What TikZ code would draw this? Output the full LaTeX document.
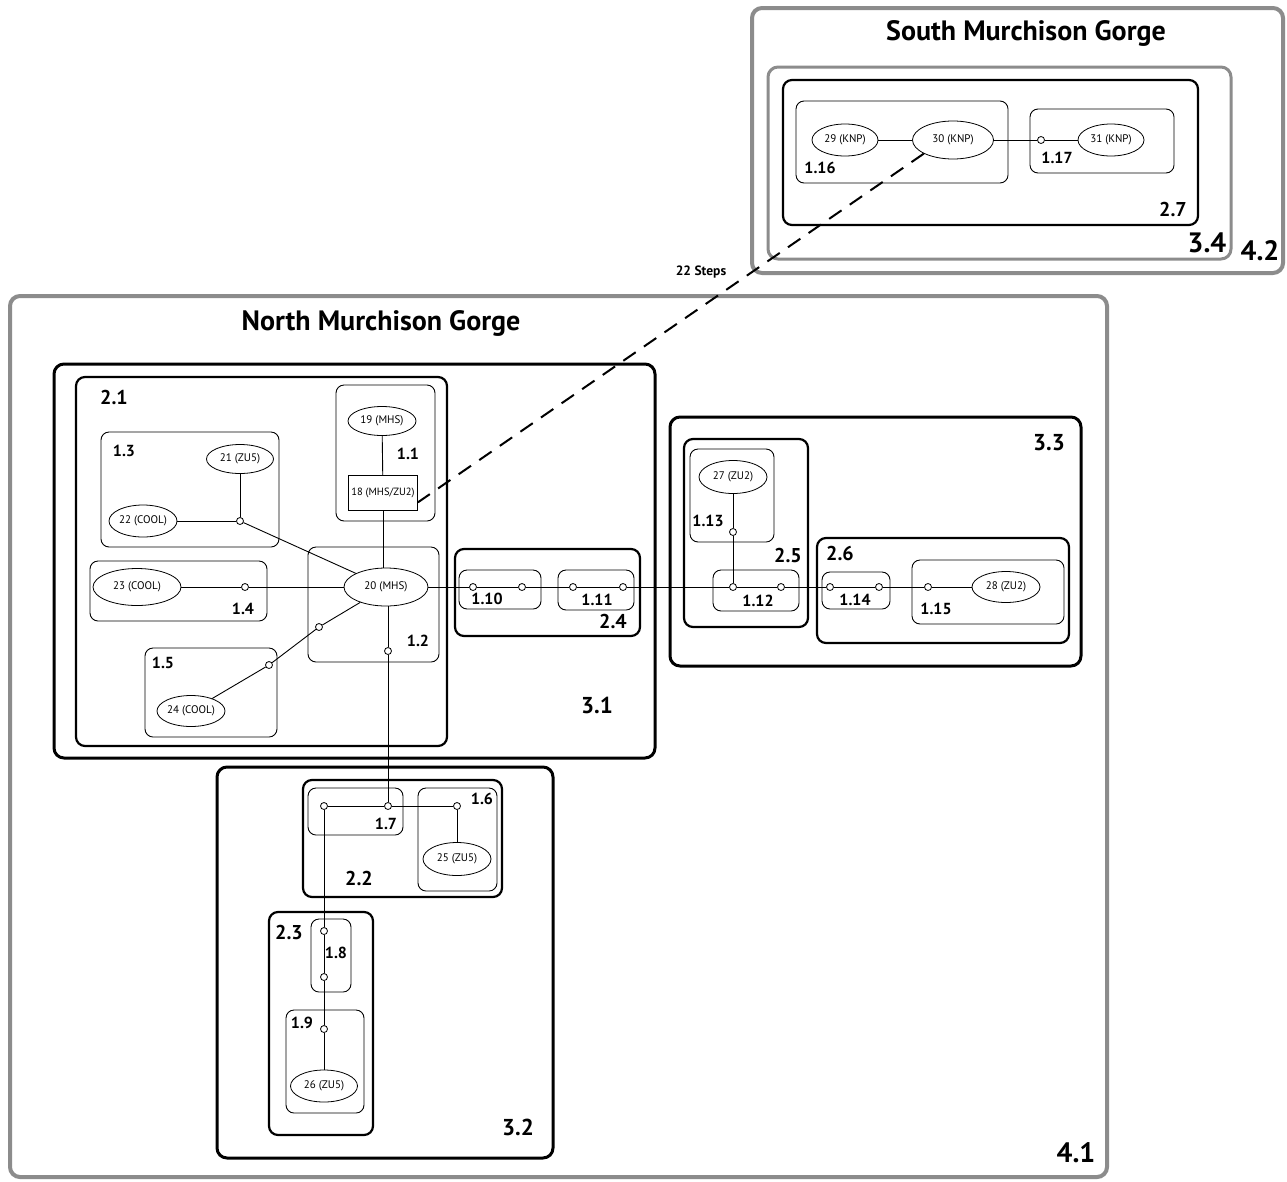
\documentclass[tikz,border=0pt]{standalone}
\usepackage{fontspec}
\setmainfont{PT Sans}
\usetikzlibrary{shapes.geometric,fit}
\tikzset{
  box1/.style={draw, line width=0.9pt, rounded corners=8pt, inner sep=0pt},
  box2/.style={draw, line width=2.2pt, rounded corners=9pt, inner sep=0pt},
  box3/.style={draw, line width=3pt, rounded corners=10pt, inner sep=0pt},
  gbox3/.style={draw=black!45, line width=3pt, rounded corners=10pt, inner sep=0pt},
  gbox4/.style={draw=black!45, line width=4pt, rounded corners=10pt, inner sep=0pt},
  ell/.style={draw, ellipse, line width=0.8pt, inner sep=0pt, font=\fontsize{11}{13}\selectfont},
  rbox/.style={draw, rectangle, line width=0.8pt, inner sep=0pt, font=\fontsize{10.5}{12}\selectfont},
  jn/.style={draw, circle, fill=white, minimum size=7pt, inner sep=0pt, line width=0.8pt},
  lbls/.style={font=\bfseries\fontsize{16}{18}\selectfont, inner sep=0pt},
  lblm/.style={font=\bfseries\fontsize{20}{22}\selectfont, inner sep=0pt},
  lblb/.style={font=\bfseries\fontsize{23}{25}\selectfont, inner sep=0pt},
  lblx/.style={font=\bfseries\fontsize{28}{30}\selectfont, inner sep=0pt},
  ttl/.style={font=\bfseries\fontsize{28}{32}\selectfont, inner sep=0pt},
  conn/.style={line width=0.9pt},
  dashconn/.style={line width=2pt, dash pattern=on 15pt off 10pt},
}
\begin{document}
\begin{tikzpicture}[x=1pt,y=-1pt]
\useasboundingbox[fill=white] (0,0) rectangle (1287,1181);

% ---------------- South ----------------
\node[gbox4, fit={(752,8) (1283,273)}] (g42) {};
\node[ttl] (t42) at (1026,33) {South Murchison Gorge};
\node[gbox3, fit={(768,67) (1231,259)}] (g34) {};
\node[box2, fit={(783,80) (1198,225)}] (g27) {};
\node[box1, fit={(796,101) (1008,183)}] (g116) {};
\node[box1, fit={(1030,109) (1174,173)}] (g117) {};
\node[lblx] (l42) at (1260,251) {4.2};
\node[lblx] (l34) at (1207,243) {3.4};
\node[lblm] (l27) at (1173,209) {2.7};
\node[lbls] (l116) at (820,168) {1.16};
\node[lbls] (l117) at (1057,158) {1.17};
\node[ell, minimum width=66pt, minimum height=32pt] (n29) at (845,140) {29 (KNP)};
\node[ell, minimum width=81pt, minimum height=38pt] (n30) at (953,140) {30 (KNP)};
\node[ell, minimum width=66pt, minimum height=32pt] (n31) at (1111,140) {31 (KNP)};
\node[jn] (j117) at (1041,140) {};
\draw[conn] (n29) -- (n30);
\draw[conn] (n30) -- (j117);
\draw[conn] (j117) -- (n31);

% ---------------- North ----------------
\node[gbox4, fit={(10,296) (1107,1177)}] (g41) {};
\node[ttl] (t41) at (381,323) {North Murchison Gorge};
\node[lblx] (l41) at (1076,1153) {4.1};

% 3.1
\node[box3, fit={(54,364) (655,758)}] (g31) {};
\node[lblb] (l31) at (597,705) {3.1};
\node[box2, fit={(76,377) (447,746)}] (g21) {};
\node[lblm] (l21) at (114,397) {2.1};

\node[box1, fit={(336,385) (435,521)}] (g11) {};
\node[lbls] (l11) at (408,454) {1.1};
\node[ell, minimum width=68pt, minimum height=29pt] (n19) at (382,421) {19 (MHS)};
\node[rbox, minimum width=69pt, minimum height=35pt] (n18) at (383,493) {18 (MHS/ZU2)};

\node[box1, fit={(101,432) (279,547)}] (g13) {};
\node[lbls] (l13) at (124,451) {1.3};
\node[ell, minimum width=67pt, minimum height=29pt] (n21) at (240,459) {21 (ZU5)};
\node[ell, minimum width=68pt, minimum height=32pt] (n22) at (143,521) {22 (COOL)};
\node[jn] (j13) at (240,521) {};

\node[box1, fit={(90,561) (267,621)}] (g14) {};
\node[lbls] (l14) at (243,609) {1.4};
\node[ell, minimum width=88pt, minimum height=37pt] (n23) at (137,587) {23 (COOL)};
\node[jn] (j14) at (245,587) {};

\node[box1, fit={(308,547) (439,662)}] (g12) {};
\node[lbls] (l12) at (418,641) {1.2};
\node[ell, minimum width=84pt, minimum height=38pt] (n20) at (386,587) {20 (MHS)};
\node[jn] (j12a) at (319,627) {};
\node[jn] (j12b) at (388,651) {};

\node[box1, fit={(145,648) (277,737)}] (g15) {};
\node[lbls] (l15) at (163,663) {1.5};
\node[ell, minimum width=68pt, minimum height=31pt] (n24) at (191,711) {24 (COOL)};
\node[jn] (j15) at (269,665) {};

% 2.4
\node[box2, fit={(455,549) (640,636)}] (g24) {};
\node[lblm] (l24) at (613,621) {2.4};
\node[box1, fit={(459,570) (541,609)}] (g110) {};
\node[lbls] (l110) at (487,599) {1.10};
\node[jn] (j110a) at (473,587) {};
\node[jn] (j110b) at (522,587) {};
\node[box1, fit={(558,570) (634,610)}] (g111) {};
\node[lbls] (l111) at (597,600) {1.11};
\node[jn] (j111a) at (573,587) {};
\node[jn] (j111b) at (623,587) {};

% 3.3
\node[box3, fit={(670,417) (1081,666)}] (g33) {};
\node[lblb] (l33) at (1049,443) {3.3};
\node[box2, fit={(684,439) (808,627)}] (g25) {};
\node[lblm] (l25) at (788,555) {2.5};
\node[box1, fit={(690,449) (774,542)}] (g113) {};
\node[lbls] (l113) at (708,521) {1.13};
\node[ell, minimum width=68pt, minimum height=33pt] (n27) at (733,477) {27 (ZU2)};
\node[jn] (j113) at (733,532) {};
\node[box1, fit={(713,570) (799,611)}] (g112) {};
\node[lbls] (l112) at (758,601) {1.12};
\node[jn] (j112a) at (733,587) {};
\node[jn] (j112b) at (781,587) {};

\node[box2, fit={(817,538) (1069,643)}] (g26) {};
\node[lblm] (l26) at (840,553) {2.6};
\node[box1, fit={(822,572) (890,609)}] (g114) {};
\node[lbls] (l114) at (855,600) {1.14};
\node[jn] (j114a) at (830,587) {};
\node[jn] (j114b) at (879,587) {};
\node[box1, fit={(912,560) (1064,624)}] (g115) {};
\node[lbls] (l115) at (936,609) {1.15};
\node[jn] (j115) at (928,587) {};
\node[ell, minimum width=68pt, minimum height=31pt] (n28) at (1006,587) {28 (ZU2)};

% 3.2
\node[box3, fit={(217,767) (553,1158)}] (g32) {};
\node[lblb] (l32) at (518,1127) {3.2};
\node[box2, fit={(303,780) (502,897)}] (g22) {};
\node[lblm] (l22) at (359,878) {2.2};
\node[box1, fit={(308,788) (403,835)}] (g17) {};
\node[lbls] (l17) at (386,824) {1.7};
\node[jn] (j17a) at (324,806) {};
\node[jn] (j17b) at (388,806) {};
\node[box1, fit={(418,788) (497,891)}] (g16) {};
\node[lbls] (l16) at (482,799) {1.6};
\node[jn] (j16) at (457,806) {};
\node[ell, minimum width=68pt, minimum height=33pt] (n25) at (457,859) {25 (ZU5)};

\node[box2, fit={(269,912) (373,1135)}] (g23) {};
\node[lblm] (l23) at (289,932) {2.3};
\node[box1, fit={(311,919) (351,992)}] (g18) {};
\node[lbls] (l18) at (336,953) {1.8};
\node[jn] (j18a) at (324,931) {};
\node[jn] (j18b) at (324,977) {};
\node[box1, fit={(286,1010) (364,1113)}] (g19) {};
\node[lbls] (l19) at (302,1023) {1.9};
\node[jn] (j19) at (324,1029) {};
\node[ell, minimum width=67pt, minimum height=32pt] (n26) at (324,1086) {26 (ZU5)};

% ---------------- connectors ----------------
\draw[conn] (n19) -- (n18);
\draw[conn] (n18.south) -- (n18.south |- n20.north);
\draw[conn] (n21) -- (j13);
\draw[conn] (n22) -- (j13);
\draw[conn] (j13) -- (n20);
\draw[conn] (n23) -- (j14);
\draw[conn] (j14) -- (n20);
\draw[conn] (n20) -- (j12a);
\draw[conn] (j12a) -- (j15);
\draw[conn] (j15) -- (n24);
\draw[conn] (j12b |- n20.south) -- (j12b);
\draw[conn] (j12b) -- (j17b);
\draw[conn] (j17a) -- (j17b);
\draw[conn] (j17b) -- (j16);
\draw[conn] (j16) -- (n25);
\draw[conn] (j17a) -- (j18a);
\draw[conn] (j18a) -- (j18b);
\draw[conn] (j18b) -- (j19);
\draw[conn] (j19) -- (n26);
\draw[conn] (n20) -- (j110a);
\draw[conn] (j110a) -- (j110b);
\draw[conn] (j110b) -- (j111a);
\draw[conn] (j111a) -- (j111b);
\draw[conn] (j111b) -- (j112a);
\draw[conn] (j112a) -- (j112b);
\draw[conn] (j112b) -- (j114a);
\draw[conn] (j114a) -- (j114b);
\draw[conn] (j114b) -- (j115);
\draw[conn] (j115) -- (n28);
\draw[conn] (j112a) -- (j113);
\draw[conn] (j113) -- (n27);

\draw[dashconn] (n30.205) -- (n18.345);
\node[font=\bfseries\fontsize{13.5}{15}\selectfont, inner sep=0pt] (steps) at (701,272) {22 Steps};
\end{tikzpicture}
\end{document}
